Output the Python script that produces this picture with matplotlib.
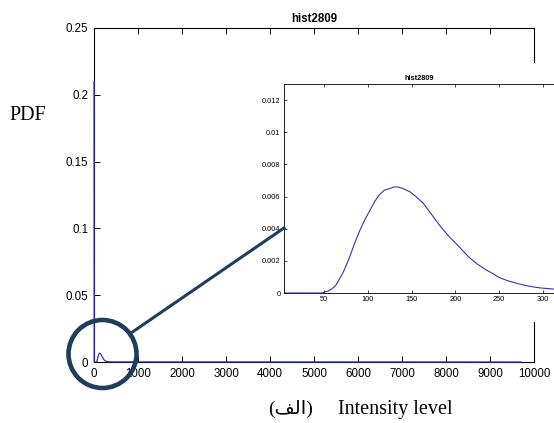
import matplotlib
matplotlib.use("Agg")
import matplotlib.pyplot as plt
from matplotlib.patches import Ellipse, Rectangle
from matplotlib.lines import Line2D

# intensity level vs PDF
intensite = [0, 4, 30, 48, 50, 55, 60, 64, 68, 72, 76, 79, 85, 91, 96, 102, 108,
             113, 119, 125, 130, 134, 140, 148, 155, 163, 170, 178, 185, 193, 202,
             209, 216, 225, 235, 243, 250, 260, 270, 280, 292, 300, 311, 330, 400,
             9700]
pdf = [0.21, 0.0, 0.0, 0.0, 0.00004, 0.00013, 0.0003, 0.00052, 0.0009, 0.0013,
       0.0018, 0.0022, 0.0031, 0.0039, 0.0045, 0.0051, 0.0057, 0.0061, 0.0064,
       0.0065, 0.0066, 0.0066, 0.0065, 0.0063, 0.0060, 0.0056, 0.0051, 0.0045,
       0.0040, 0.0035, 0.0030, 0.0026, 0.0022, 0.0018, 0.00144, 0.0012, 0.00096,
       0.00076, 0.0006, 0.00047, 0.00035, 0.0003, 0.00025, 0.0002, 0.0001, 0.0]

xticks_main = [0, 1000, 2000, 3000, 4000, 5000, 6000, 7000, 8000, 9000, 10000]
yticks_main = [0, 0.05, 0.1, 0.15, 0.2, 0.25]
ylabels_main = ["0", "0.05", "0.1", "0.15", "0.2", "0.25"]
xticks_zoom = [50, 100, 150, 200, 250, 300]
yticks_zoom = [0, 0.002, 0.004, 0.006, 0.008, 0.01, 0.012]
ylabels_zoom = ["0", "0.002", "0.004", "0.006", "0.008", "0.01", "0.012"]

titulo = "hist2809"
azul = "#3333bb"
marinho = "#1f3d5f"

W, H = 554, 423
fig = plt.figure(figsize=(W / 100, H / 100), dpi=100)

def fx(px):
    return px / W

def fy(py):
    return 1 - py / H

# eixo principal
ax = fig.add_axes([fx(94), fy(362), fx(534) - fx(94), fy(28) - fy(362)])
ax.plot(intensite, pdf, color=azul, lw=0.9, zorder=3, clip_on=False)
ax.set_xlim(0, 10000)
ax.set_ylim(0, 0.25)
ax.set_xticks(xticks_main)
ax.set_xticklabels([str(v) for v in xticks_main])
ax.set_yticks(yticks_main)
ax.set_yticklabels(ylabels_main)
ax.tick_params(direction="in", length=4, width=0.7, top=True, right=True,
               labelsize=8.3, pad=4)
for lab in ax.get_xticklabels() + ax.get_yticklabels():
    lab.set_family("Liberation Sans")
for s in ax.spines.values():
    s.set_linewidth(0.8)
ax.set_title(titulo, fontsize=8.3, fontweight="bold", family="Liberation Sans", pad=4)

# fundo branco da figura colada
fundo = Rectangle((fx(250), fy(322)), 1 - fx(250), fy(63) - fy(322),
                  transform=fig.transFigure, facecolor="white", edgecolor="none", zorder=1)
fig.add_artist(fundo)

# eixo ampliado
ins = fig.add_axes([fx(284), fy(293), 1 - fx(284), fy(84) - fy(293)])
ins.set_zorder(2)
ins.plot(intensite, pdf, color=azul, lw=0.8)
ins.set_xlim(4.3, 312.6)
ins.set_ylim(0, 0.013)
ins.set_xticks(xticks_zoom)
ins.set_xticklabels([str(v) for v in xticks_zoom])
ins.set_yticks(yticks_zoom)
ins.set_yticklabels(ylabels_zoom)
ins.tick_params(direction="in", length=2, width=0.5, top=True, right=False,
                labelsize=5.3, pad=2.5)
for lab in ins.get_xticklabels() + ins.get_yticklabels():
    lab.set_family("Liberation Sans")
for s in ins.spines.values():
    s.set_linewidth(0.6)
ins.spines["right"].set_visible(False)
ins.set_title(titulo, fontsize=5.3, fontweight="bold", family="Liberation Sans", pad=3)

# circulo e linha de ligacao
circulo = Ellipse((fx(102.5), fy(354)), 2 * 34 / W, 2 * 34 / H, transform=fig.transFigure,
                  fill=False, edgecolor=marinho, lw=3.3, zorder=3)
fig.add_artist(circulo)
fig.add_artist(Line2D([fx(131), fx(284)], [fy(333), fy(228)], transform=fig.transFigure,
                      color=marinho, lw=2.2, zorder=3))

fig.text(fx(28), fy(115), "PDF", ha="center", va="center", fontsize=14.5,
         family="Liberation Serif")
fig.text(fx(395), fy(414), "Intensity level", ha="center", va="baseline", fontsize=14.5,
         family="Liberation Serif")
fig.text(fx(291), fy(414), "(\uFED2\uFEDF\uFE8D)", ha="center", va="baseline", fontsize=14,
         family=["Liberation Serif", "DejaVu Sans"])

fig.savefig("out.png", dpi=100)
